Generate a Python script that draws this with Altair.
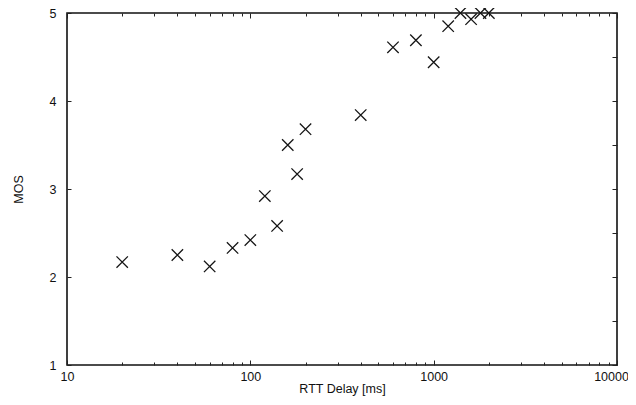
import altair as alt
import pandas as pd

# Data
rtt_ms = [20, 40, 60, 80, 100, 120, 140, 160, 180, 200, 400, 600, 800, 1000, 1200, 1400, 1600, 1800, 2000]
mos = [2.17, 2.25, 2.12, 2.33, 2.42, 2.92, 2.58, 3.50, 3.17, 3.68, 3.84, 4.61, 4.69, 4.44, 4.85, 5.0, 4.93, 5.0, 5.0]

x_labels_main = [10, 100, 1000]
x_label_last = [10000]
x_major = [10, 100, 1000, 10000]
x_minor = [20, 30, 40, 50, 60, 70, 80, 90, 200, 300, 400, 500, 600, 700, 800, 900,
           2000, 3000, 4000, 5000, 6000, 7000, 8000, 9000]
y_labels = [1, 2, 3, 4, 5]
y_right_ticks = [1, 1.5, 2, 2.5, 3, 3.5, 4, 4.5, 5]

df = pd.DataFrame({"rtt": rtt_ms, "mos": mos})

FONT = "Liberation Sans"
xs = alt.Scale(type="log", domain=[10, 10000], nice=False)
ys = alt.Scale(domain=[1, 5], nice=False, zero=False)

base = alt.Chart(df)

points = base.mark_point(
    shape="M-1,-1L1,1M-1,1L1,-1", filled=False, size=130, strokeWidth=1.3,
    color="#151515", opacity=1
).encode(
    x=alt.X("rtt:Q", scale=xs, axis=alt.Axis(
        orient="bottom", values=x_labels_main, format="d", title="RTT Delay [ms]",
        ticks=False, tickSize=0, domain=False, grid=False, labelPadding=5,
        labelFlush=False,
        labelFont=FONT, labelFontSize=12.5, labelColor="#111",
        titleFont=FONT, titleFontSize=12.5, titleFontWeight="normal", titleColor="#111",
        titlePadding=0)),
    y=alt.Y("mos:Q", scale=ys, axis=alt.Axis(
        orient="left", values=y_labels, format="d", title="MOS",
        ticks=False, tickSize=0, domain=False, grid=False, labelPadding=11,
        labelFlush=False,
        labelFont=FONT, labelFontSize=12.5, labelColor="#111",
        titleFont=FONT, titleFontSize=12.5, titleFontWeight="normal", titleColor="#111",
        titlePadding=24)),
)

last_label = base.mark_point(opacity=0).encode(
    x=alt.X("rtt:Q", scale=xs, axis=alt.Axis(
        orient="bottom", values=x_label_last, format="d", title=None,
        ticks=False, tickSize=0, domain=False, grid=False, labelPadding=5,
        labelFlush=False, labelOffset=-6,
        labelFont=FONT, labelFontSize=12.5, labelColor="#111")),
    y=alt.Y("mos:Q", scale=ys, axis=None),
)


def xticks(orient, values, size):
    return base.mark_point(opacity=0).encode(
        x=alt.X("rtt:Q", scale=xs, axis=alt.Axis(
            orient=orient, values=values, labels=False, title=None, domain=False,
            grid=False, ticks=True, tickSize=size, offset=-size, tickColor="#222",
            tickWidth=1)),
        y=alt.Y("mos:Q", scale=ys, axis=None),
    )


def yticks(orient, values, size):
    return base.mark_point(opacity=0).encode(
        x=alt.X("rtt:Q", scale=xs, axis=None),
        y=alt.Y("mos:Q", scale=ys, axis=alt.Axis(
            orient=orient, values=values, labels=False, title=None, domain=False,
            grid=False, ticks=True, tickSize=size, offset=-size, tickColor="#222",
            tickWidth=1)),
    )


chart = alt.layer(
    points,
    last_label,
    xticks("bottom", x_minor, 3),
    xticks("bottom", x_major, 5),
    xticks("top", x_minor, 3),
    xticks("top", x_major, 5),
    yticks("left", y_labels, 4),
    yticks("right", y_right_ticks, 5),
).resolve_axis(x="independent", y="independent").properties(
    width=550, height=352,
    autosize=alt.AutoSizeParams(type="none"),
    padding={"left": 59, "top": 5, "right": 11, "bottom": 32},
    background="white",
).configure_view(stroke="#111", strokeWidth=1.6)

chart.save("out.html", embed_options={"renderer": "svg", "actions": False})
